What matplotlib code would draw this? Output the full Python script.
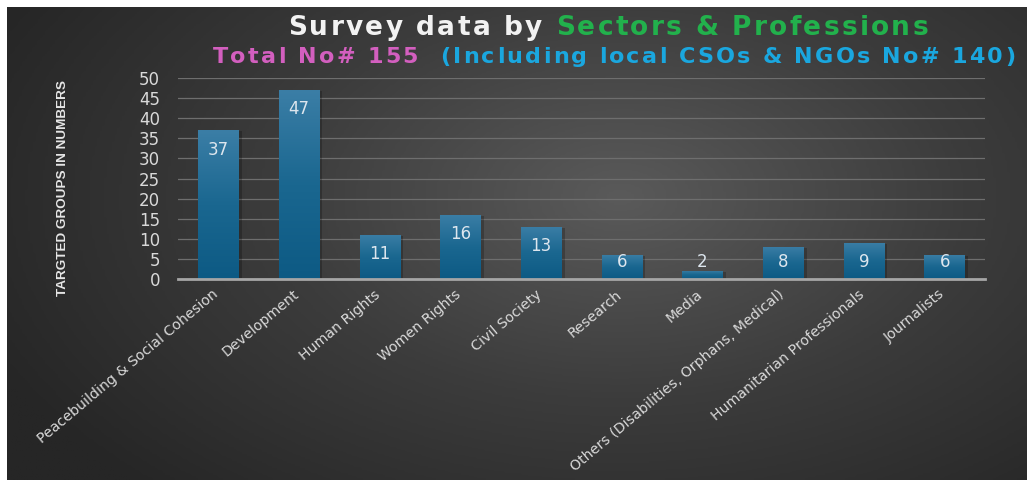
import numpy as np
import matplotlib
matplotlib.use("Agg")
import matplotlib.pyplot as plt
import matplotlib.transforms as mtransforms
from matplotlib import font_manager
from matplotlib.colors import LinearSegmentedColormap

# data
categories = [
    "Peacebuilding & Social Cohesion", "Development", "Human Rights",
    "Women Rights", "Civil Society", "Research", "Media",
    "Others (Disabilities, Orphans, Medical)", "Humanitarian Professionals",
    "Journalists",
]
counts = [37, 47, 11, 16, 13, 6, 2, 8, 9, 6]
yticks = list(range(0, 55, 5))

title_parts = [("Survey data by ", "#f2f2f2"), ("Sectors & Professions", "#22b14c")]
subtitle_parts = [("Total No# 155  ", "#d35fbf"),
                  ("(Including local CSOs & NGOs No# 140)", "#1aa7df")]

TICK = "#d9d9d9"
GRID = "#6e6e6e"

W, H = 1034, 480
fig = plt.figure(figsize=(W / 100, H / 100), dpi=100, facecolor="white")

# radial-ish dark background, white strip on top/left/right like the screenshot
bg = fig.add_axes([7 / W, 0, (1027 - 7) / W, (H - 7) / H])
bg.axis("off")
yy, xx = np.mgrid[0:200, 0:400]
cx, cy = 240, 80
d = np.sqrt(((xx - cx) / 270.0) ** 2 + ((yy - cy) / 170.0) ** 2)
d = np.clip(d, 0, 1)
bg_cmap = LinearSegmentedColormap.from_list("bg", ["#5a5a5a", "#3c3c3c", "#262626"])
bg.imshow(d, cmap=bg_cmap, aspect="auto", extent=(0, 1, 0, 1), vmin=0, vmax=1)
bg.set_xlim(0, 1)
bg.set_ylim(0, 1)

ax = fig.add_axes([178 / W, 201 / H, 807 / W, 201 / H])
ax.patch.set_alpha(0)

x = np.arange(len(categories))
bar_cmap = LinearSegmentedColormap.from_list("bar", ["#0d5a84", "#1a6790", "#3b7ea6"])
grad = np.linspace(0, 1, 256).reshape(-1, 1)
bars = ax.bar(x, counts, width=0.5, color="none", edgecolor="none", zorder=3)
for b in bars:
    x0, w, h = b.get_x(), b.get_width(), b.get_height()
    ax.bar(x0 + w / 2 + 0.04, h, width=w, bottom=-0.3, color="black", alpha=0.22,
           zorder=2, edgecolor="none")
    im = ax.imshow(grad, cmap=bar_cmap, aspect="auto", origin="lower",
                   extent=(x0, x0 + w, 0, h), zorder=3)
    im.set_clip_path(b)
ax.set_xlim(-0.5, len(categories) - 0.5)
ax.set_ylim(0, 50)

for xi, v in zip(x, counts):
    ax.text(xi, max(v - 4.8, 4.3), str(v), ha="center", va="center",
            color="#dde6ee", fontsize=12, zorder=5)

ax.set_yticks(yticks)
ax.set_yticklabels([str(t) for t in yticks], fontsize=12, color=TICK)
ax.tick_params(axis="y", length=0, pad=13)
ax.set_xticks(x)
ax.set_xticklabels(categories, rotation=40, ha="right", rotation_mode="anchor",
                   fontsize=10.2, color=TICK)
ax.tick_params(axis="x", length=0, pad=6)
shift = mtransforms.ScaledTranslation(-6 / 100, 0, fig.dpi_scale_trans)
for lab in ax.get_xticklabels():
    lab.set_transform(lab.get_transform() + shift)
ax.grid(axis="y", color=GRID, lw=0.9, zorder=0)
ax.set_axisbelow(True)
for s in ["top", "right", "left"]:
    ax.spines[s].set_visible(False)
ax.spines["bottom"].set_color("#a6a6a6")
ax.spines["bottom"].set_linewidth(2)
ax.spines["bottom"].set_zorder(4)

installed = {f.name for f in font_manager.fontManager.ttflist}
if "Liberation Sans Narrow" in installed:
    ylab_family, ylab_size = "Liberation Sans Narrow", 11.5
else:
    ylab_family, ylab_size = "Liberation Sans", 9.7
fig.text(63 / W, 1 - 188 / H, "TARGTED GROUPS IN NUMBERS", rotation=90,
         ha="center", va="center", color="#e6e6e6", fontsize=ylab_size,
         fontweight="bold", family=ylab_family)


def spaced_line(parts, x_start, x_end, baseline, size):
    # letter-spaced text, one character at a time, stretched to span x_start..x_end
    renderer = fig.canvas.get_renderer()

    def width(s):
        t = fig.text(0, 0, s, fontsize=size, fontweight="bold")
        wd = t.get_window_extent(renderer).width
        t.remove()
        return wd

    bar_w = width("||")
    chars = [(ch, col) for s, col in parts for ch in s]
    widths = [width("|" + ch + "|") - bar_w for ch, _ in chars]
    track = (x_end - x_start - sum(widths)) / (len(chars) - 1)
    xp = x_start
    for (ch, col), wd in zip(chars, widths):
        if ch != " ":
            fig.text(xp / W, 1 - baseline / H, ch, color=col, fontsize=size,
                     fontweight="bold", va="baseline", ha="left")
        xp += wd + track


spaced_line(title_parts, 288, 928, 35, 19)
spaced_line(subtitle_parts, 213, 1015, 63, 16)

fig.savefig("out.png", dpi=100)
